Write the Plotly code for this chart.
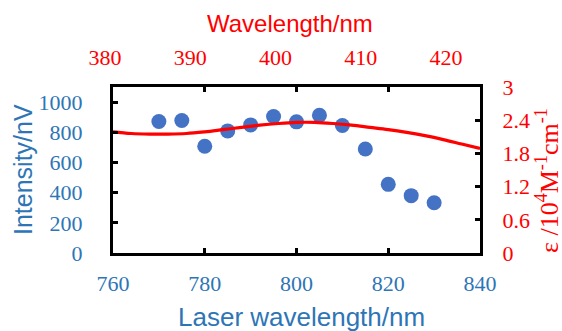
import plotly.graph_objects as go

# Laser wavelength scan (bottom/left axes)
laser_nm = [770, 775, 780, 785, 790, 795, 800, 805, 810, 815, 820, 825, 830]
intensity_nV = [871, 878, 707, 809, 849, 905, 869, 913, 845, 689, 455, 380, 333]

# Absorption curve (top/right axes)
abs_nm = [380, 382, 384, 386, 388, 390, 392, 394, 396, 398, 400, 402, 404, 406,
          408, 410, 412, 414, 416, 418, 420]
epsilon = [2.19, 2.16, 2.15, 2.15, 2.16, 2.19, 2.23, 2.27, 2.31, 2.34, 2.36, 2.36,
           2.34, 2.31, 2.27, 2.23, 2.18, 2.12, 2.05, 1.97, 1.89]

left_ticks = [0, 200, 400, 600, 800, 1000]
right_ticks = [0, 0.6, 1.2, 1.8, 2.4, 3]
bottom_ticks = [760, 780, 800, 820, 840]
top_ticks = [380, 390, 400, 410, 420]

BLUE_T = "#2E75B6"
BLUE_M = "#4472C4"
RED = "#FF0000"
SERIF = "Liberation Serif, Times New Roman, serif"
SANS = "Liberation Sans, Arial, sans-serif"
TF = 22

W, H = 562, 331
ML, MR, MT, MB = 90, 70, 87, 78
PW = W - ML - MR  # plotting width in px


def px(xpix):
    """pixel x -> paper fraction"""
    return (xpix - ML) / PW


def py(ypix):
    return (H - MB - ypix) / (H - MT - MB)


fig = go.Figure()
fig.add_trace(go.Scatter(x=abs_nm, y=epsilon, xaxis="x2", yaxis="y2", mode="lines",
                         line=dict(color=RED, width=3.2, shape="spline"),
                         showlegend=False, hoverinfo="skip"))
fig.add_trace(go.Scatter(x=laser_nm, y=intensity_nV, mode="markers",
                         marker=dict(color=BLUE_M, size=15), showlegend=False))
# invisible trace so that the label-only top axis is rendered
fig.add_trace(go.Scatter(x=[], y=[], xaxis="x3", yaxis="y", showlegend=False))

axis_common = dict(showline=True, linecolor="black", linewidth=3, ticks="inside",
                   ticklen=5, tickwidth=3, tickcolor="black", showgrid=False,
                   zeroline=False)

dom_main = [px(113), px(480)]
dom_top_labels = [px(98), px(460)]

fig.update_layout(
    width=W, height=H,
    margin=dict(l=ML, r=MR, t=MT, b=MB),
    paper_bgcolor="white", plot_bgcolor="rgba(0,0,0,0)",
    xaxis=dict(domain=dom_main, range=[760, 840], tickvals=bottom_ticks,
               ticklabelstandoff=9,
               tickfont=dict(family=SERIF, size=TF, color=BLUE_T), **axis_common),
    # top axis carrying the absorption curve (ticks only)
    xaxis2=dict(domain=dom_main, range=[380, 420], tickvals=top_ticks, overlaying="x",
                side="top", showticklabels=False, **axis_common),
    # top tick labels, placed as in the original (slightly offset from the ticks)
    xaxis3=dict(domain=dom_top_labels, range=[379.18, 421.64], tickvals=top_ticks,
                anchor="y", side="top", showline=False, ticks="", showgrid=False,
                zeroline=False, ticklabelstandoff=17,
                tickfont=dict(family=SERIF, size=TF, color=RED)),
    yaxis=dict(range=[0, 1100], tickvals=left_ticks, ticklabelstandoff=23,
               tickfont=dict(family=SERIF, size=TF, color=BLUE_T), **axis_common),
    yaxis2=dict(range=[0, 3], tickvals=right_ticks, overlaying="y", side="right",
                ticklabelstandoff=15,
                tickfont=dict(family=SERIF, size=TF, color=RED), **axis_common),
    annotations=[
        dict(text="Wavelength/nm", x=px(290), y=py(24), xref="paper", yref="paper",
             showarrow=False, xanchor="center", yanchor="middle",
             font=dict(family=SANS, size=24, color=RED)),
        dict(text="Laser wavelength/nm", x=px(301), y=py(317), xref="paper",
             yref="paper", showarrow=False, xanchor="center", yanchor="middle",
             font=dict(family=SANS, size=26, color=BLUE_T)),
        dict(text="Intensity/nV", x=px(23), y=py(170), xref="paper", yref="paper",
             showarrow=False, xanchor="center", yanchor="middle", textangle=-90,
             font=dict(family=SANS, size=25, color=BLUE_T)),
        dict(text="ε /10<sup>4</sup>M<sup>-1</sup>cm<sup>-1</sup>", x=px(547),
             y=py(181), xref="paper", yref="paper", showarrow=False, xanchor="center",
             yanchor="middle", textangle=-90,
             font=dict(family=SERIF, size=26, color=RED)),
    ],
)

fig.write_html("out.html", config={"displayModeBar": False},
               post_script="document.body.style.margin='0';document.body.style.overflow='hidden';")
